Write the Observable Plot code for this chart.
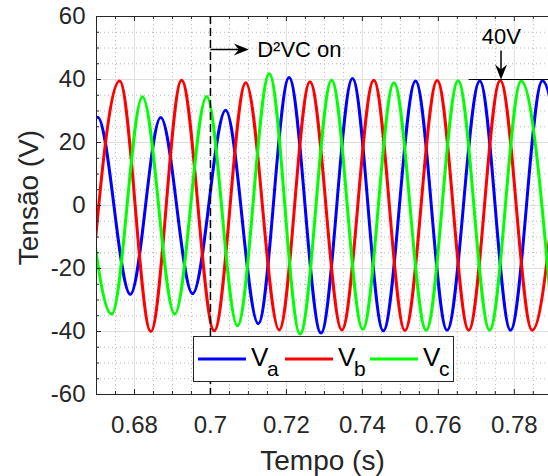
<!DOCTYPE html>
<html><head><meta charset="utf-8">
<script src="https://cdn.jsdelivr.net/npm/d3@7"></script>
<script src="https://cdn.jsdelivr.net/npm/@observablehq/plot@0.6"></script>
<style>
body{margin:0;background:#fff;}
#chart{position:relative;width:548px;height:476px;font-family:"Liberation Sans",Arial,Helvetica,sans-serif;color:#262626;overflow:hidden;}
</style></head><body><div id="chart"></div>
<script>
// ---- data (peaks / troughs) ----
const phaseNames = ["Va", "Vb", "Vc"];
const phaseSubs = ["a", "b", "c"];
const phaseColors = ["#0000ff", "#ff0000", "#00ff00"];

const vaTime  = [0.6622, 0.6703, 0.6789, 0.6869, 0.6953, 0.7040, 0.7126, 0.7207, 0.7291, 0.7374, 0.7455, 0.7540, 0.7623, 0.7709, 0.7790, 0.7874, 0.7957];
const vaValue = [-28.0, 28.0, -28.2, 27.9, -28.0, 30.2, -37.5, 40.6, -40.5, 40.3, -39.8, 39.5, -39.6, 39.5, -39.6, 39.6, -39.6];

const vbTime  = [0.6676, 0.6761, 0.6843, 0.6924, 0.7010, 0.7093, 0.7181, 0.7262, 0.7346, 0.7430, 0.7512, 0.7597, 0.7680, 0.7763, 0.7847, 0.7930];
const vbValue = [-40.0, 39.5, -40.0, 39.8, -39.8, 39.0, -39.5, 39.3, -39.5, 39.8, -39.7, 39.7, -39.6, 39.7, -39.6, 39.6];

const vcTime  = [0.6654, 0.6740, 0.6821, 0.6906, 0.6990, 0.7071, 0.7155, 0.7236, 0.7319, 0.7401, 0.7483, 0.7568, 0.7652, 0.7735, 0.7818, 0.7902];
const vcValue = [34.5, -34.5, 34.5, -34.5, 34.6, -38.2, 41.8, -40.8, 39.8, -39.3, 39.0, -39.6, 39.6, -39.6, 39.5, -39.6];

const xDomain = [0.67, 0.789];
const yDomain = [-60, 60];
const xTicks = [0.68, 0.70, 0.72, 0.74, 0.76, 0.78];
const xMinorTicks = [0.675, 0.685, 0.69, 0.695, 0.705, 0.71, 0.715, 0.725, 0.73, 0.735, 0.745, 0.75, 0.755, 0.765, 0.77, 0.775, 0.785];
const yTicks = [-60, -40, -20, 0, 20, 40, 60];
const yMinorTicks = [-55, -50, -45, -35, -30, -25, -15, -10, -5, 5, 10, 15, 25, 30, 35, 45, 50, 55];

const xLabel = "Tempo (s)";
const yLabel = "Tensão (V)";

// annotations
const switchTime = [0.70];
const switchArrowX = [0.70, 0.7101];
const switchArrowY = [49.5];
const switchText = "D²VC on";
const switchTextPos = [0.7123, 49.5];
const peakText = "40V";
const peakTextPos = [0.7766, 53.4];
const peakArrowX = [0.7765];
const peakArrowY = [49.2, 40];
const peakLineX = [0.7681, 0.789];
const peakLineY = [40];

// ---- build rows ----
const seriesTimes = [vaTime, vbTime, vcTime];
const seriesValues = [vaValue, vbValue, vcValue];
const rows = [];
seriesTimes.forEach((ts, i) => ts.forEach((t, j) => rows.push({phase: phaseNames[i], t, v: seriesValues[i][j]})));

const W = 548, H = 476, mL = 96, mR = 0, mT = 16, mB = 82;
const plotW = W - mL - mR, plotH = H - mT - mB;
const axisColor = "#262626";

const stealth = {
  draw(ctx) {
    ctx.moveTo(0, 0);
    ctx.lineTo(-15, -6);
    ctx.lineTo(-10, 0);
    ctx.lineTo(-15, 6);
    ctx.closePath();
  }
};

const chart = Plot.plot({
  width: W, height: H,
  marginLeft: mL, marginRight: mR, marginTop: mT, marginBottom: mB,
  style: {fontFamily: '"Liberation Sans", Arial, Helvetica, sans-serif', color: axisColor, background: "white"},
  x: {domain: xDomain, label: null},
  y: {domain: yDomain, label: null},
  color: {domain: phaseNames, range: phaseColors},
  marks: [
    Plot.gridX(xMinorTicks, {stroke: "#b8b8b8", strokeOpacity: 1, strokeDasharray: "1,3"}),
    Plot.gridY(yMinorTicks, {stroke: "#b8b8b8", strokeOpacity: 1, strokeDasharray: "1,3"}),
    Plot.gridX(xTicks, {stroke: "#dfdfdf", strokeOpacity: 1}),
    Plot.gridY(yTicks, {stroke: "#dfdfdf", strokeOpacity: 1}),
    Plot.line(rows, {x: "t", y: "v", z: "phase", stroke: "phase", curve: "monotone-x", strokeWidth: 3, clip: true}),
    // frame (top, bottom, left)
    Plot.ruleY([yDomain[1], yDomain[0]], {stroke: axisColor, strokeWidth: 1}),
    Plot.ruleX([xDomain[0]], {stroke: axisColor, strokeWidth: 1}),
    // inward ticks
    Plot.ruleX(xTicks, {stroke: axisColor, insetTop: plotH - 5}),
    Plot.ruleX(xTicks, {stroke: axisColor, insetBottom: plotH - 5}),
    Plot.ruleX(xMinorTicks, {stroke: axisColor, insetTop: plotH - 3}),
    Plot.ruleX(xMinorTicks, {stroke: axisColor, insetBottom: plotH - 3}),
    Plot.ruleY(yTicks, {stroke: axisColor, insetRight: plotW - 5}),
    Plot.ruleY(yMinorTicks, {stroke: axisColor, insetRight: plotW - 3}),
    Plot.axisX({ticks: xTicks, tickSize: 0, tickPadding: 21, fontSize: 24, tickFormat: d => String(d), label: null}),
    Plot.axisY({ticks: yTicks, tickSize: 0, tickPadding: 11, fontSize: 24, tickFormat: d => String(d), label: null}),
    Plot.text([xLabel], {frameAnchor: "bottom", text: d => d, dy: 56, lineAnchor: "top", fontSize: 28, fill: axisColor}),
    Plot.text([yLabel], {frameAnchor: "left", text: d => d, rotate: -90, textAnchor: "middle", lineAnchor: "middle", dx: -67, dy: -8, fontSize: 28, fill: axisColor}),
    // switching instant
    Plot.ruleX(switchTime, {stroke: "black", strokeWidth: 1.5, strokeDasharray: "8,4"}),
    Plot.link([0], {x1: () => switchArrowX[0], x2: () => switchArrowX[1] - 0.0015, y1: () => switchArrowY[0], y2: () => switchArrowY[0], stroke: "black", strokeWidth: 1.5}),
    Plot.dot([0], {x: () => switchArrowX[1], y: () => switchArrowY[0], symbol: stealth, fill: "black", stroke: "none", rotate: 0}),
    Plot.text([switchText], {x: () => switchTextPos[0], y: () => switchTextPos[1], text: d => d, textAnchor: "start", fontSize: 22, fill: "black"}),
    // 40 V marker
    Plot.ruleY(peakLineY, {x1: peakLineX[0], x2: peakLineX[1], stroke: "black", strokeWidth: 1.2}),
    Plot.link([0], {x1: () => peakArrowX[0], x2: () => peakArrowX[0], y1: () => peakArrowY[0], y2: () => peakArrowY[1] + 3, stroke: "black", strokeWidth: 1.5}),
    Plot.dot([0], {x: () => peakArrowX[0], y: () => peakArrowY[1], symbol: stealth, fill: "black", stroke: "none", rotate: 90}),
    Plot.text([peakText], {x: () => peakTextPos[0], y: () => peakTextPos[1], text: d => d, fontSize: 22, fill: "black"})
  ]
});

const root = document.getElementById("chart");
root.appendChild(chart);

// legend (inside the axes, as in the original)
const lg = d3.create("svg")
  .attr("width", 262).attr("height", 47)
  .style("position", "absolute").style("left", "193px").style("top", "336px")
  .style("font-family", '"Liberation Sans", Arial, Helvetica, sans-serif');
lg.append("rect").attr("x", 0.5).attr("y", 0.5).attr("width", 260).attr("height", 45)
  .attr("fill", "white").attr("stroke", "#262626").attr("stroke-width", 1);
const entryX = [5, 92, 177];
phaseNames.forEach((p, i) => {
  const x0 = entryX[i];
  lg.append("line").attr("x1", x0).attr("x2", x0 + 48).attr("y1", 23).attr("y2", 23)
    .attr("stroke", phaseColors[i]).attr("stroke-width", 3);
  lg.append("text").attr("x", x0 + 53).attr("y", 30).attr("font-size", 26).attr("fill", "black").text("V");
  lg.append("text").attr("x", x0 + 69).attr("y", 40).attr("font-size", 21).attr("fill", "black").text(phaseSubs[i]);
});
root.appendChild(lg.node());
</script>
</body></html>
